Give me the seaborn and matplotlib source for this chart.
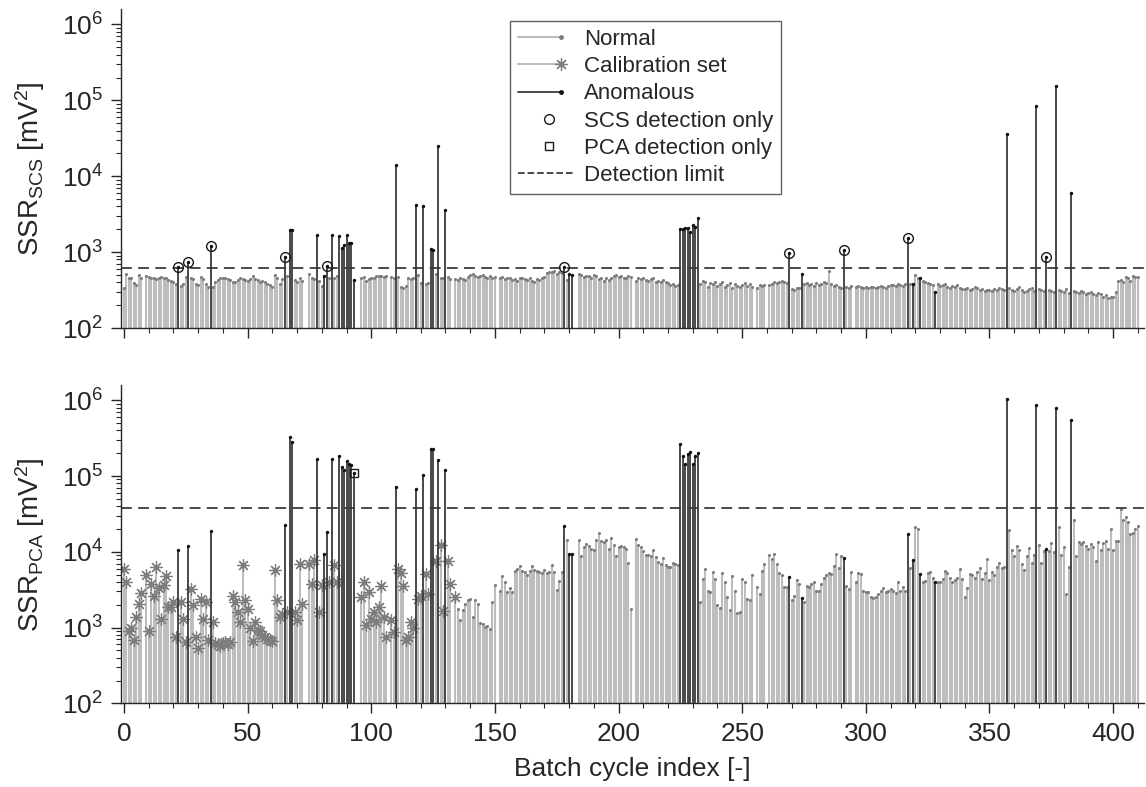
import numpy as np
import pandas as pd
import matplotlib
matplotlib.use("Agg")
import matplotlib.pyplot as plt
from matplotlib.lines import Line2D
from matplotlib.legend_handler import HandlerLine2D
from matplotlib.ticker import MultipleLocator, LogLocator, NullFormatter
import seaborn as sns

nan = np.nan

# SSR of the SCS model per batch cycle (mV^2), index 0..410, nan = missing cycle
ssr_scs = [
    340, 520, 460, 450, 390, 370, 500, 460, nan, 480,
    470, 450, 460, 440, 450, 470, 460, 450, 430, 420,
    400, 380, 630, 360, 380, 470, 750, 460, 440, 380,
    370, 470, 440, 380, 350, 1200, 350, 400, 430, 450,
    460, 450, 440, 430, 410, 400, 430, 450, 440, 430,
    420, 440, 480, 440, 430, 410, 420, 400, 380, 370,
    350, 500, 460, 380, 440, 870, 480, 1950, 1950, 430,
    400, 450, 420, nan, nan, 520, 450, 440, 1700, 420,
    360, 490, 650, 460, 1700, 450, 480, 1650, 1150, 1250,
    1700, 1300, 1300, 435, nan, nan, 460, 470, 420, 440,
    460, 450, 480, 490, 490, 470, 480, nan, 470, 460,
    14000, 470, 350, 340, 360, 450, 440, 460, 4200, 500,
    390, 4100, 380, 390, 1100, 1080, 520, 25000, 460, 450,
    3600, 470, 440, nan, 440, 430, 450, 440, 430, 470,
    500, 510, 480, 470, 490, 500, 470, 460, 480, 450,
    470, nan, 450, 470, 440, 460, 450, 430, 440, 420,
    450, 460, 440, 430, 450, 420, 410, 440, 430, 450,
    470, 530, 550, 540, 560, 520, 540, 530, 640, 430,
    520, 500, nan, nan, 520, 500, 470, 490, 480, 460,
    500, 480, 440, 460, 420, 450, 430, 450, 480, 500,
    470, 490, 460, 450, 480, 470, nan, 420, 460, 440,
    450, 430, 420, 440, 450, 400, 420, 410, 430, 400,
    390, 370, 380, 360, 370, 2000, 2000, 2100, 2050, 1850,
    2250, 2150, 2800, 380, 420, 400, 350, 390, 380, 410,
    360, 380, 400, 350, 370, 390, 340, 380, 360, 350,
    370, 390, 360, 380, 350, nan, 340, 370, 360, 370,
    nan, 370, 380, 400, 390, 410, 420, 400, 390, 980,
    330, 320, 335, 340, 510, 380, 390, 370, 380, 360,
    390, 370, 380, 400, 390, 560, 380, 360, 370, 350,
    340, 1070, 350, 340, 360, nan, 350, 360, 345, 340,
    350, 340, 345, 350, 340, 345, 355, 350, 340, 360,
    365, 370, 360, 375, 370, 360, 380, 1550, 380, 380,
    500, 460, 450, 420, 400, 390, 380, 370, 300, 380,
    360, 370, 380, 350, 340, 360, 350, 370, 340, 330,
    330, 340, 320, 330, 350, 340, 320, 330, 310, 320,
    320, 310, 330, 320, 340, 330, 320, 36000, 340, 320,
    310, 330, 350, 320, 300, 310, 330, 340, 310, 85000,
    330, 320, 310, 850, 320, 310, 300, 155000, 320, 310,
    300, 330, 290, 6100, 310, 300, 290, 310, 300, 280,
    290, 300, 280, 270, 290, 280, 260, 270, 250, 255,
    260, 300, 420, 430, 410, 470, 450, 420, 480, 470,
    470,
]

# SSR of the PCA model per batch cycle (mV^2)
ssr_pca = [
    5900, 4050, 900, 980, 680, 1380, 2070, 2860, nan, 4960,
    910, 3800, 2600, 6300, 3350, 1320, 3600, 4800, 1870, 1870,
    2200, 750, 10500, 2180, 1300, 650, 12000, 3200, 1970, 760,
    540, 2400, 1300, 2200, 690, 19000, 1170, 620, 600, 580,
    620, 640, 600, 650, 2640, 2180, 1620, 1200, 6800, 2300,
    1780, 1000, 660, 1200, 930, 900, 800, 760, 700, 680,
    660, 5760, 2300, 1380, 1500, 22500, 1600, 330000, 282000, 1610,
    1260, 6900, 2070, nan, nan, 6900, 3800, 7900, 170000, 1610,
    3600, 9500, 18000, 3960, 170000, 6800, 4000, 186000, 132000, 120000,
    158000, 144000, 138000, 108000, nan, nan, 2520, 3960, 1080, 2930,
    1320, 1610, 1200, 1870, 3580, 1380, 760, nan, 1260, 870,
    71000, 5900, 5300, 3580, 690, 760, 1200, 980, 67000, 2400,
    2640, 102000, 5100, 2760, 225000, 225000, 7600, 162000, 12200, 1650,
    120000, 7600, 3800, nan, 2520, 1780, 1260, 1700, 2070, 2300,
    2400, 1380, 2300, 2070, 1140, 1110, 1020, 1050, 950, 2200,
    3640, nan, 3000, 4800, 4050, 2930, 3300, 2930, 5600, 6000,
    6500, 5600, 5500, 4900, 5600, 6600, 5800, 5600, 5400, 5300,
    5800, 5200, 5400, 6800, 5500, 3180, 4150, 5500, 22000, 14400,
    9500, 9500, nan, nan, 14400, 8700, 11600, 12800, 11800, 11000,
    10600, 14400, 17700, 14000, 13500, 14400, 11000, 15400, 12400, 8900,
    11600, 12000, 11600, 11000, 7200, 1780, nan, 14800, 12200, 11600,
    10200, 9000, 9000, 8800, 10600, 8500, 7300, 7000, 8300, 6700,
    6400, 6400, 7200, 7000, 6700, 262000, 186000, 144000, 195000, 210000,
    145000, 182000, 200000, 2180, 4360, 5900, 3080, 2930, 5400, 4360,
    1970, 1830, 5200, 4050, 2520, 1700, 4750, 3080, 1540, 1610,
    4360, 4050, 2400, 2300, 4900, nan, 3400, 2760, 5600, 7000,
    nan, 9000, 8000, 9500, 7000, 5200, 4900, 3400, 3400, 4700,
    2300, 2640, 4250, 3800, 2450, 2180, 3580, 3400, 3800, 4050,
    3080, 3080, 3800, 4500, 4900, 5200, 5100, 6600, 9400, 6200,
    8700, 8300, 3580, 3200, 5400, nan, 3960, 5300, 5100, 3080,
    2930, 2930, 2520, 2460, 2520, 2760, 3080, 3300, 2930, 3000,
    3200, 3000, 2860, 4050, 3080, 3400, 3080, 17400, 6200, 7800,
    21000, 20000, 5100, 3960, 4150, 5300, 5400, 4500, 4000, 3960,
    3960, 4360, 5600, 5300, 4450, 3960, 4200, 4500, 5900, 4360,
    2520, 3300, 5100, 4900, 4500, 5400, 6200, 4360, 5300, 8000,
    4200, 5400, 4900, 6400, 7200, 6200, 6400, 1050000, 19400, 10500,
    8900, 11800, 10600, 7000, 5800, 8700, 11200, 7200, 9000, 870000,
    12200, 7200, 10200, 11000, 10200, 13200, 9900, 800000, 21000, 9200,
    11600, 2760, 6400, 540000, 26000, 8700, 13500, 12800, 13500, 12000,
    11000, 12600, 11500, 7500, 13600, 10600, 13000, 14000, 11000, 20000,
    10500, 14000, 14000, 36500, 26500, 28500, 24600, 17000, 17600, 20000,
    22000,
]

anomalous = [22, 26, 35, 65, 67, 68, 78, 81, 82, 84, 87, 88, 89, 90, 91, 92, 93,
             110, 118, 121, 124, 125, 127, 130, 178, 180, 181,
             225, 226, 227, 228, 229, 230, 231, 232,
             269, 274, 291, 317, 319, 322, 328, 357, 369, 373, 377, 383]
scs_only = [22, 26, 35, 65, 82, 178, 269, 291, 317, 373]
pca_only = [93]
calibration_last = 134
scs_limit = 610
pca_limit = 37600

sns.set_style("ticks")
plt.rcParams['font.family'] = ['Liberation Sans', 'DejaVu Sans']
plt.rcParams['mathtext.default'] = 'regular'
plt.rcParams['text.color'] = '#262626'
plt.rcParams['axes.labelcolor'] = '#262626'
plt.rcParams['xtick.color'] = '#262626'
plt.rcParams['ytick.color'] = '#262626'

df = pd.DataFrame({'cycle': np.arange(len(ssr_scs)), 'scs': ssr_scs, 'pca': ssr_pca})
df['kind'] = 'Normal'
df.loc[df.cycle.isin(anomalous), 'kind'] = 'Anomalous'

grey_stem = '#bdbdbd'
grey_dot = '#7d7d7d'
dark_stem = '#3a3a3a'

fig = plt.figure(figsize=(11.46, 7.87), dpi=100)
ax1 = fig.add_axes([0.1056, 0.5832, 0.8927, 0.405])
ax2 = fig.add_axes([0.1056, 0.1061, 0.8927, 0.4047])


def draw(ax, col, limit, with_calibration, det_only, det_marker):
    d = df.dropna(subset=[col])
    norm = d[d.kind == 'Normal']
    anom = d[d.kind == 'Anomalous']
    ax.set_yscale('log')
    ax.vlines(norm.cycle, 100, norm[col], color=grey_stem, lw=1.5, zorder=1)
    if with_calibration:
        cal = norm[norm.cycle <= calibration_last]
        rest = norm[norm.cycle > calibration_last]
        sns.scatterplot(data=cal, x='cycle', y=col, ax=ax, marker=(8, 2, 0), s=70,
                        color=grey_dot, linewidth=0.9, zorder=2, legend=False)
    else:
        rest = norm
    sns.scatterplot(data=rest, x='cycle', y=col, ax=ax, marker='o', s=5,
                    color=grey_dot, linewidth=0, zorder=2, legend=False)
    ax.axhline(limit, color='#3c3c3c', lw=1.3, ls=(0, (6, 3.5)), zorder=2.5)
    ax.vlines(anom.cycle, 100, anom[col], color=dark_stem, lw=1.3, zorder=3)
    sns.scatterplot(data=anom, x='cycle', y=col, ax=ax, marker='o', s=6,
                    color='#111111', linewidth=0, zorder=4, legend=False)
    sel = d[d.cycle.isin(det_only)]
    ax.plot(sel.cycle, sel[col], ls='none', marker=det_marker, ms=7 if det_marker == 'o' else 6,
            mfc='none', mec='#1a1a1a', mew=1.0, zorder=5)

    ax.set_xlim(-1.2, 412.5)
    ax.set_ylim(100, 10 ** 6.2)
    ax.xaxis.set_major_locator(MultipleLocator(50))
    ax.xaxis.set_minor_locator(MultipleLocator(10))
    ax.yaxis.set_major_locator(LogLocator(base=10, numticks=10))
    ax.yaxis.set_minor_locator(LogLocator(base=10, subs=np.arange(2, 10), numticks=20))
    ax.yaxis.set_minor_formatter(NullFormatter())
    ax.tick_params(which='major', direction='out', length=7, width=1, labelsize=19, pad=6)
    ax.tick_params(which='minor', direction='out', length=3.5, width=0.8)
    for side in ['top', 'right']:
        ax.spines[side].set_visible(False)
    for side in ['left', 'bottom']:
        ax.spines[side].set_color('#262626')
        ax.spines[side].set_linewidth(1.0)
    ax.set_xlabel('')


draw(ax1, 'scs', scs_limit, False, scs_only, 'o')
draw(ax2, 'pca', pca_limit, True, pca_only, 's')

ax1.tick_params(axis='x', labelbottom=False)
ax1.set_ylabel(r'SSR$_{SCS}$ [mV$^2$]', fontsize=20)
ax2.set_ylabel(r'SSR$_{PCA}$ [mV$^2$]', fontsize=20)
ax1.yaxis.set_label_coords(-0.072, 0.5)
ax2.yaxis.set_label_coords(-0.072, 0.5)
ax2.set_xlabel('Batch cycle index [-]', fontsize=19, labelpad=8)


class StemHandler(HandlerLine2D):
    # stem-like legend sample: line with the marker at its right end
    def __init__(self, frac, **kw):
        super().__init__(**kw)
        self.frac = frac

    def create_artists(self, legend, orig, xdescent, ydescent, width, height, fontsize, trans):
        y = (height - ydescent) / 2
        x0 = -xdescent
        x1 = x0 + width * self.frac
        out = []
        if orig.get_linestyle() not in ('None', 'none', ''):
            ln = Line2D([x0, x1], [y, y], color=orig.get_color(), lw=orig.get_linewidth(),
                        ls=orig.get_linestyle())
            ln.set_transform(trans)
            out.append(ln)
        if orig.get_marker() not in ('None', 'none', '', None):
            mx = x1 if out else x0 + width * 0.55
            mk = Line2D([mx], [y], ls='none', marker=orig.get_marker(), ms=orig.get_markersize(),
                        mfc=orig.get_markerfacecolor(), mec=orig.get_markeredgecolor(),
                        mew=orig.get_markeredgewidth())
            mk.set_transform(trans)
            out.append(mk)
        return out


h_normal = Line2D([], [], color=grey_stem, lw=1.5, marker='o', ms=2.5, mfc=grey_dot, mec=grey_dot)
h_cal = Line2D([], [], color=grey_stem, lw=1.5, marker=(8, 2, 0), ms=9, mec=grey_dot, mew=0.9)
h_anom = Line2D([], [], color=dark_stem, lw=1.3, marker='o', ms=2.5, mfc='#111111', mec='#111111')
h_scs = Line2D([], [], ls='none', marker='o', ms=7, mfc='none', mec='#1a1a1a', mew=1.0)
h_pca = Line2D([], [], ls='none', marker='s', ms=6, mfc='none', mec='#1a1a1a', mew=1.0)
h_lim = Line2D([], [], color='#3c3c3c', lw=1.3, ls=(0, (7, 4)))

handles = [h_normal, h_cal, h_anom, h_scs, h_pca, h_lim]
labels = ['Normal', 'Calibration set', 'Anomalous', 'SCS detection only',
          'PCA detection only', 'Detection limit']
hmap = {h: StemHandler(0.75) for h in [h_normal, h_cal, h_anom, h_scs, h_pca]}
hmap[h_lim] = StemHandler(1.0)
leg = ax1.legend(handles, labels, handler_map=hmap, loc='upper left',
                 bbox_to_anchor=(0.38, 0.963),
                 fontsize=16, frameon=True, fancybox=False,
                 handlelength=2.6, handletextpad=0.4, labelspacing=0.28,
                 borderpad=0.35, borderaxespad=0)
leg.get_frame().set_edgecolor('#3c3c3c')
leg.get_frame().set_linewidth(1.0)

fig.savefig('out.png', dpi=100)
